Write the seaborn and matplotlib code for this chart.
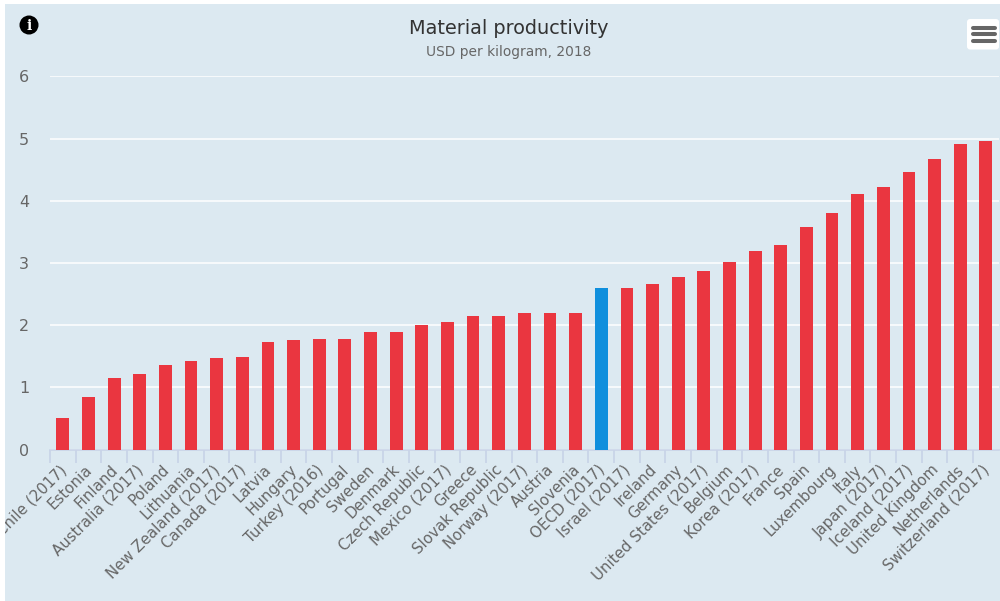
import matplotlib
matplotlib.use('Agg')
import matplotlib.pyplot as plt
from matplotlib.patches import Circle, FancyBboxPatch, Rectangle
from matplotlib.ticker import FixedLocator
from matplotlib.transforms import ScaledTranslation
import numpy as np
import pandas as pd
import seaborn as sns

countries = ['Chile (2017)', 'Estonia', 'Finland', 'Australia (2017)', 'Poland', 'Lithuania',
             'New Zealand (2017)', 'Canada (2017)', 'Latvia', 'Hungary', 'Turkey (2016)', 'Portugal',
             'Sweden', 'Denmark', 'Czech Republic', 'Mexico (2017)', 'Greece', 'Slovak Republic',
             'Norway (2017)', 'Austria', 'Slovenia', 'OECD (2017)', 'Israel (2017)', 'Ireland',
             'Germany', 'United States (2017)', 'Belgium', 'Korea (2017)', 'France', 'Spain',
             'Luxembourg', 'Italy', 'Japan (2017)', 'Iceland (2017)', 'United Kingdom', 'Netherlands',
             'Switzerland (2017)']
productivity = [0.51, 0.85, 1.15, 1.21, 1.36, 1.42, 1.47, 1.49, 1.73, 1.76, 1.78, 1.78, 1.89, 1.89,
                2.01, 2.05, 2.15, 2.15, 2.20, 2.20, 2.20, 2.60, 2.60, 2.67, 2.78, 2.88, 3.02, 3.20,
                3.30, 3.59, 3.81, 4.12, 4.23, 4.48, 4.69, 4.93, 4.98]
groups = ['OECD' if c.startswith('OECD') else 'Country' for c in countries]
y_ticks = [0, 1, 2, 3, 4, 5, 6.03]  # top line sits a little high in the reference
y_labels = ['0', '1', '2', '3', '4', '5', '6']

BG = '#dce9f1'
RED = '#ea3640'
BLUE = '#0f8fdd'
GREY = '#666666'
W, H = 1000, 601

df = pd.DataFrame({'country': countries, 'value': productivity, 'group': groups})

sns.set_style('white')
fig = plt.figure(figsize=(W / 100, H / 100), dpi=100, facecolor='white')

# panel behind everything, white strip stays on the left and top
panel = Rectangle((5 / W, 0), 995 / W, 597 / H, transform=fig.transFigure, facecolor=BG, edgecolor='none', zorder=-5)
fig.add_artist(panel)

ax = fig.add_axes([50 / W, 1 - 449.5 / H, 948.7 / W, 374 / H])
ax.patch.set_alpha(0)
sns.barplot(data=df, x='country', y='value', hue='group', palette={'Country': RED, 'OECD': BLUE},
            dodge=False, width=0.5, saturation=1, legend=False, linewidth=0, ax=ax, zorder=3)

ax.set_xlim(-0.5, len(countries) - 0.5)
ax.set_ylim(0, 6.03)
ax.set_yticks(y_ticks)
ax.set_yticklabels(y_labels)
ax.set_xlabel('')
ax.set_ylabel('')
ax.yaxis.grid(True, color='white', linewidth=1.1)
ax.set_axisbelow(True)
for s in ax.spines.values():
    s.set_visible(False)
ax.spines['bottom'].set_visible(True)
ax.spines['bottom'].set_color('#c9d4e8')
ax.spines['bottom'].set_linewidth(1.2)

ax.tick_params(axis='y', length=0, labelsize=11.5, labelcolor=GREY, pad=15)
ax.tick_params(axis='x', which='major', length=0, labelsize=10.8, labelcolor=GREY, pad=9)
ax.xaxis.set_minor_locator(FixedLocator(np.arange(len(countries)) - 0.5))
ax.tick_params(axis='x', which='minor', bottom=True, length=9.2, width=1.3, color='#c9d4e8')
ax.set_xticks(range(len(countries)))
ax.set_xticklabels(countries, rotation=45, ha='right', rotation_mode='anchor')
shift = ScaledTranslation(-4 / 100, 0, fig.dpi_scale_trans)
for lab in ax.get_xticklabels():
    lab.set_transform(lab.get_transform() + shift)
    lab.set_clip_path(panel)
    lab.set_clip_on(True)

fig.text(509 / W, 1 - 28 / H, 'Material productivity', ha='center', va='center', fontsize=13.9, color='#333333')
fig.text(509 / W, 1 - 52 / H, 'USD per kilogram, 2018', ha='center', va='center', fontsize=9.9, color=GREY)

# info icon
overlay = fig.add_axes([0, 0, 1, 1], facecolor='none')
overlay.set_xlim(0, W)
overlay.set_ylim(H, 0)
overlay.axis('off')
overlay.add_patch(Circle((29, 25), 9.5, facecolor='black', edgecolor='none'))
overlay.text(29, 25.5, 'i', color='white', fontsize=10, fontweight='bold', family='DejaVu Serif', ha='center', va='center')

# menu button
overlay.add_patch(FancyBboxPatch((967, 19), 32, 30.5, boxstyle='round,pad=0,rounding_size=3', facecolor='white', edgecolor='none'))
for y in (27.5, 34, 41):
    overlay.plot([973, 995], [y, y], color=GREY, linewidth=2.9, solid_capstyle='round')

fig.savefig('out.png', dpi=100, facecolor='white')
